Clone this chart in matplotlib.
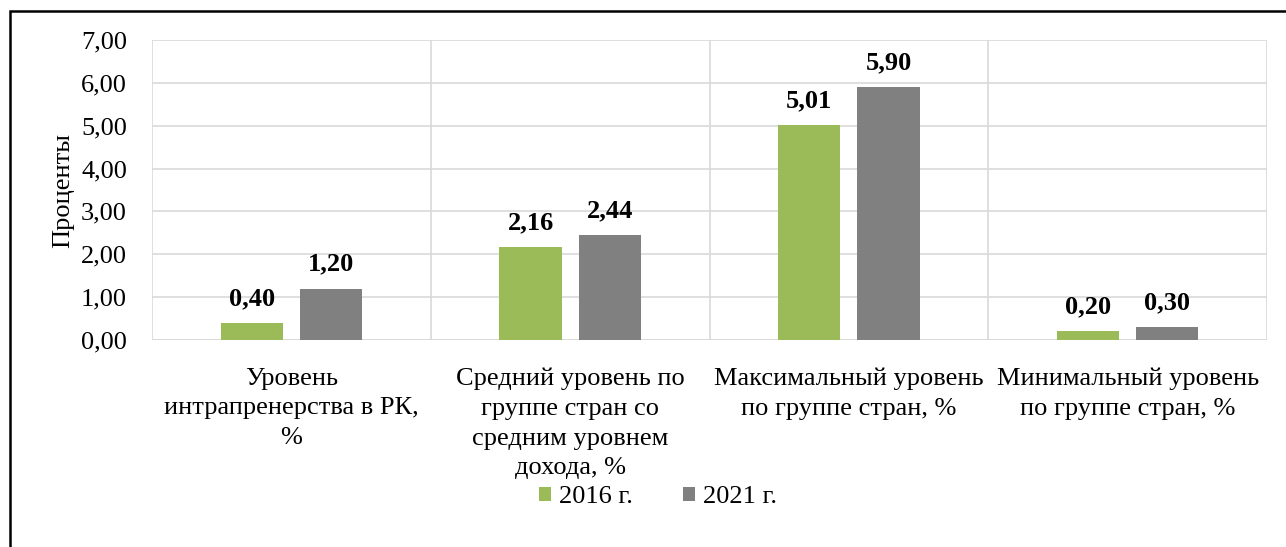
import matplotlib
matplotlib.use('Agg')

import matplotlib.pyplot as plt
from matplotlib.patches import Rectangle
import numpy as np

categories = [
    "Уровень\nинтрапренерства в РК,\n%",
    "Средний уровень по\nгруппе стран со\nсредним уровнем\nдохода, %",
    "Максимальный уровень\nпо группе стран, %",
    "Минимальный уровень\nпо группе стран, %",
]
series_names = ["2016 г.", "2021 г."]
values_2016 = [0.40, 2.16, 5.01, 0.20]
values_2021 = [1.20, 2.44, 5.90, 0.30]
yticks = [0, 1, 2, 3, 4, 5, 6, 7]

plt.rcParams['font.family'] = ['Liberation Serif', 'DejaVu Serif']
FS = 19

W, H = 1286, 547
fig = plt.figure(figsize=(W / 100, H / 100), dpi=100)

# outer frame (cut at right/bottom as in the reference)
fig.patches.append(Rectangle((10 / W, -0.05), 1.1, 1 - 10.5 / H + 0.05,
                             transform=fig.transFigure, fill=False,
                             edgecolor='black', linewidth=1.8))

left, right, top, bottom = 152, 1267, 40, 340
ax = fig.add_axes([left / W, 1 - bottom / H, (right - left) / W, (bottom - top) / H])

x = np.arange(len(categories))
bw = 0.223
off = 0.142
b1 = ax.bar(x - off, values_2016, bw, color='#9bbb59', label=series_names[0], zorder=3)
b2 = ax.bar(x + off, values_2021, bw, color='#808080', label=series_names[1], zorder=3)

for bars in (b1, b2):
    for r in bars:
        v = r.get_height()
        ax.annotate(f"{v:.2f}".replace('.', ','),
                    (r.get_x() + r.get_width() / 2, v), xytext=(0, 13),
                    textcoords='offset pixels', ha='center', va='bottom',
                    fontsize=FS, fontweight='bold')

ax.set_xlim(-0.5, len(categories) - 0.5)
ax.set_ylim(0, 7)
ax.set_yticks(yticks)
ax.set_yticklabels([f"{t:.2f}".replace('.', ',') for t in yticks], fontsize=FS)
ax.set_xticks(x)
ax.set_xticklabels(categories, fontsize=FS, linespacing=1.45, va='top')
ax.tick_params(axis='both', length=0)
ax.tick_params(axis='x', pad=20)
ax.tick_params(axis='y', pad=18)

ax.grid(axis='y', color='#d9d9d9', linewidth=1.2, zorder=0)
for b in np.arange(-0.5, len(categories) + 0.5):
    ax.axvline(b, color='#d9d9d9', linewidth=1.2, zorder=0)
for s in ax.spines.values():
    s.set_visible(False)
ax.axhline(0, color='#d9d9d9', linewidth=1.2, zorder=1)

ax.set_ylabel("Проценты", fontsize=FS, labelpad=5)

fig.legend(handles=[b1, b2], labels=series_names, loc='center',
           bbox_to_anchor=(658 / W, 1 - 497 / H), ncol=2, frameon=False,
           fontsize=FS, handlelength=0.45, handleheight=0.45,
           handletextpad=0.3, columnspacing=1.9)

fig.savefig('out.png', dpi=100, facecolor='white')
